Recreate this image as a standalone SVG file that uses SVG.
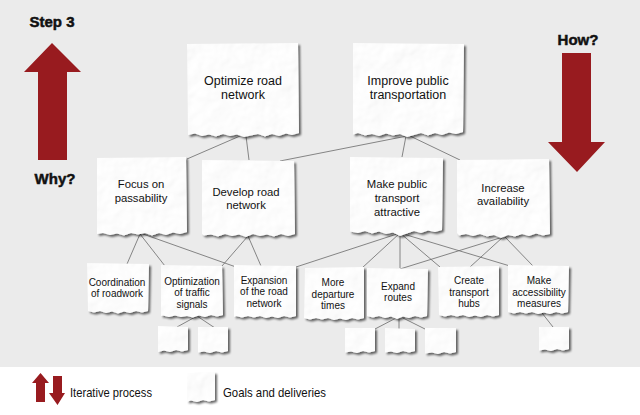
<svg xmlns="http://www.w3.org/2000/svg" width="640" height="415" viewBox="0 0 640 415">
<defs>
<style>
.paper{fill:#fafafa;filter:url(#paper)}
.c{stroke:#6a6a6a;stroke-width:0.8;fill:none}
.arr{fill:#981b1f}
text{font-family:"Liberation Sans",Arial,sans-serif;fill:#111;text-anchor:middle}
.t1{font-size:12.5px}
.t2{font-size:11.3px}
.t3{font-size:10px}
.b{font-weight:bold;font-size:15px;stroke:#111;stroke-width:0.5}
.lg{font-size:13.5px;text-anchor:start}
</style>
<filter id="paper" x="-8%" y="-8%" width="120%" height="125%">
<feTurbulence type="fractalNoise" baseFrequency="0.045" numOctaves="3" seed="3" result="noise"/>
<feDiffuseLighting in="noise" surfaceScale="1.3" lighting-color="#ffffff" result="lit"><feDistantLight azimuth="45" elevation="78"/></feDiffuseLighting>
<feComposite in="lit" in2="SourceAlpha" operator="in" result="tex"/>
<feGaussianBlur in="SourceAlpha" stdDeviation="1.2" result="b"/>
<feOffset in="b" dx="2" dy="2" result="o"/>
<feComponentTransfer in="o" result="sh"><feFuncA type="linear" slope="0.6"/></feComponentTransfer>
<feMerge><feMergeNode in="sh"/><feMergeNode in="tex"/></feMerge>
</filter>
</defs>
<rect x="0" y="0" width="640" height="367" fill="#ebebeb"/>
<rect x="0" y="367" width="640" height="48" fill="#ffffff"/>

<g id="step-labels">
<text class="b" x="52" y="27">Step 3</text>
<text class="b" x="55" y="184">Why?</text>
<text class="b" x="578" y="45">How?</text>
<polygon class="arr" points="52,43 81,72 67,72 67,160 38,160 38,72 24,72"/>
<polygon class="arr" points="562,53 591,53 591,142 605,142 577,172 548,142 562,142"/>
</g>

<g id="connectors">
<line class="c" x1="240" y1="136" x2="187" y2="159"/>
<line class="c" x1="246" y1="136" x2="249" y2="160"/>
<line class="c" x1="407" y1="136" x2="280" y2="161"/>
<line class="c" x1="406" y1="136" x2="402" y2="157"/>
<line class="c" x1="410" y1="136" x2="460" y2="160"/>
<line class="c" x1="140" y1="234" x2="127" y2="264"/>
<line class="c" x1="140" y1="234" x2="165" y2="266"/>
<line class="c" x1="143" y1="234" x2="236" y2="267"/>
<line class="c" x1="248" y1="236" x2="222" y2="266"/>
<line class="c" x1="248" y1="236" x2="261" y2="266"/>
<line class="c" x1="400" y1="233" x2="296" y2="267"/>
<line class="c" x1="400" y1="233" x2="362" y2="268"/>
<line class="c" x1="400" y1="233" x2="400" y2="268"/>
<line class="c" x1="400" y1="233" x2="440" y2="267"/>
<line class="c" x1="400" y1="233" x2="510" y2="266"/>
<line class="c" x1="503" y1="237" x2="400" y2="269"/>
<line class="c" x1="503" y1="237" x2="470" y2="267"/>
<line class="c" x1="505" y1="237" x2="533" y2="266"/>
<line class="c" x1="197" y1="316" x2="177" y2="327"/>
<line class="c" x1="197" y1="316" x2="215" y2="328"/>
<line class="c" x1="398" y1="317" x2="375" y2="329"/>
<line class="c" x1="399" y1="317" x2="399" y2="329"/>
<line class="c" x1="403" y1="318" x2="425" y2="329"/>
<line class="c" x1="542" y1="313" x2="553" y2="327"/>
</g>

<g id="optimize-road-network">
<path class="paper" d="M187,44 L298,43 L299,133 L292,135 L286,133.5 L279,136 L272,134 L265,136.5 L258,134 L251,135.5 L244,137 L237,134.5 L230,136 L223,134 L216,136.5 L209,134.5 L202,136 L195,133.5 L188,135 Z"/>
<text class="t1" x="243" y="84.5">Optimize road</text>
<text class="t1" x="243" y="98.5">network</text>
</g>
<g id="improve-public-transportation">
<path class="paper" d="M353,43 L464,44 L463,132 L456,134 L449,132.5 L442,135 L435,133 L428,135.5 L421,133 L414,135 L407,137 L400,134 L393,135.5 L386,133.5 L379,136 L372,134 L365,135.5 L358,133 L353,134.5 Z"/>
<text class="t1" x="408" y="84.5">Improve public</text>
<text class="t1" x="408" y="99">transportation</text>
</g>

<g id="focus-on-passability">
<path class="paper" d="M97,158 L186,157 L187,232 L180,234 L173,232.5 L166,235 L159,233 L152,235.5 L145,233 L138,234.5 L131,233 L124,235.5 L117,233.5 L110,235 L103,233 L97,234 Z"/>
<text class="t2" x="141" y="188">Focus on</text>
<text class="t2" x="141" y="202">passability</text>
</g>
<g id="develop-road-network">
<path class="paper" d="M202,160 L294,161 L295,234 L288,236 L281,234 L274,236.5 L267,234.5 L260,236 L253,234 L246,237 L239,234.5 L232,236 L225,234 L218,236.5 L211,234.5 L204,235.5 L202,234 Z"/>
<text class="t2" x="246" y="196">Develop road</text>
<text class="t2" x="246" y="209">network</text>
</g>
<g id="make-public-transport-attractive">
<path class="paper" d="M350,157 L443,158 L442,230 L435,232 L428,230.5 L421,233 L414,231 L407,233.5 L400,236 L393,232.5 L386,234 L379,231.5 L372,233.5 L365,231 L358,233 L350,231.5 Z"/>
<text class="t2" x="397" y="188">Make public</text>
<text class="t2" x="397" y="202">transport</text>
<text class="t2" x="397" y="216">attractive</text>
</g>
<g id="increase-availability">
<path class="paper" d="M457,160 L549,159 L550,234 L543,235.5 L536,233.5 L529,236 L522,234 L515,236.5 L508,235 L501,238 L494,235 L487,236.5 L480,234 L473,236 L466,234 L459,235.5 L457,233 Z"/>
<text class="t2" x="503" y="192">Increase</text>
<text class="t2" x="503" y="205">availability</text>
</g>

<g id="coordination-of-roadwork">
<path class="paper" d="M87,263 L149,264 L148,311 L142,312.5 L136,311 L130,313 L124,311.5 L118,313.5 L112,311.5 L106,313 L100,311 L94,312.5 L88,311 Z"/>
<text class="t3" x="117" y="285.5">Coordination</text>
<text class="t3" x="117" y="297">of roadwork</text>
</g>
<g id="optimization-of-traffic-signals">
<path class="paper" d="M161,265 L222,266 L223,315 L217,316.5 L211,315 L205,317 L199,315.5 L193,317.5 L187,316 L181,317 L175,315.5 L169,317 L163,315.5 L161,316 Z"/>
<text class="t3" x="192" y="284.5">Optimization</text>
<text class="t3" x="192" y="296">of traffic</text>
<text class="t3" x="192" y="307.5">signals</text>
</g>
<g id="expansion-of-the-road-network">
<path class="paper" d="M234,265 L296,266 L296,316 L290,317.5 L284,316 L278,318 L272,316.5 L266,318 L260,316 L254,317.5 L248,316 L242,317.5 L236,316 L234,317 Z"/>
<text class="t3" x="264" y="283.5">Expansion</text>
<text class="t3" x="264" y="295">of the road</text>
<text class="t3" x="264" y="306.5">network</text>
</g>
<g id="more-departure-times">
<path class="paper" d="M305,268 L364,267 L364,318 L358,319.5 L352,318 L346,320 L340,318.5 L334,320 L328,318 L322,319.5 L316,318 L310,319.5 L304,318 Z"/>
<text class="t3" x="333" y="285.5">More</text>
<text class="t3" x="333" y="297.5">departure</text>
<text class="t3" x="333" y="308.5">times</text>
</g>
<g id="expand-routes">
<path class="paper" d="M367,268 L428,269 L427,316 L421,317.5 L415,316 L409,318 L403,316.5 L397,319 L391,316.5 L385,318 L379,316 L373,317.5 L367,316 Z"/>
<text class="t3" x="398" y="289.5">Expand</text>
<text class="t3" x="398" y="300.5">routes</text>
</g>
<g id="create-transport-hubs">
<path class="paper" d="M438,267 L499,266 L499,315 L493,316.5 L487,315 L481,317 L475,315.5 L469,317 L463,315 L457,316.5 L451,315 L445,316.5 L439,315 Z"/>
<text class="t3" x="469" y="283.5">Create</text>
<text class="t3" x="469" y="295.5">transport</text>
<text class="t3" x="469" y="306.5">hubs</text>
</g>
<g id="make-accessibility-measures">
<path class="paper" d="M508,265 L569,266 L568,312 L562,313.5 L556,312 L550,314 L544,312.5 L538,314 L532,312 L526,313.5 L520,312 L514,313.5 L508,312 Z"/>
<text class="t3" x="539" y="283.5">Make</text>
<text class="t3" x="539" y="295.5">accessibility</text>
<text class="t3" x="539" y="306.5">measures</text>
</g>

<g id="delivery-1"><path class="paper" d="M158,326 L188,327 L188,350 L182,351.5 L176,350 L170,352 L164,350.5 L158,352 Z"/></g>
<g id="delivery-2"><path class="paper" d="M198,327 L228,327 L228,351 L222,352.5 L216,351 L210,353 L204,351.5 L198,352.5 Z"/></g>
<g id="delivery-3"><path class="paper" d="M345,328 L375,328 L375,351 L369,352.5 L363,351 L357,353 L351,351.5 L345,352.5 Z"/></g>
<g id="delivery-4"><path class="paper" d="M385,328 L415,329 L415,351 L409,352.5 L403,351 L397,353 L391,351.5 L385,352.5 Z"/></g>
<g id="delivery-5"><path class="paper" d="M425,328 L456,328 L456,352 L450,353.5 L444,352 L438,354 L432,352.5 L425,353.5 Z"/></g>
<g id="delivery-6"><path class="paper" d="M539,327 L569,327 L569,349 L563,350.5 L557,349 L551,351 L545,349.5 L539,350.5 Z"/></g>

<g id="legend">
<polygon class="arr" points="40.5,373 49,383 45,383 45,402 36,402 36,383 32,383"/>
<polygon class="arr" points="53,376 62,376 62,393 65,393 57.5,405 49,393 53,393"/>
<text class="lg" x="70" y="396.5" textLength="82" lengthAdjust="spacingAndGlyphs">Iterative process</text>
<path class="paper" d="M187,373 L215,372 L215,400 L209,401.5 L203,400 L197,402 L191,400.5 L187,401.5 Z"/>
<text class="lg" x="223" y="396.5" textLength="103" lengthAdjust="spacingAndGlyphs">Goals and deliveries</text>
</g>
</svg>
